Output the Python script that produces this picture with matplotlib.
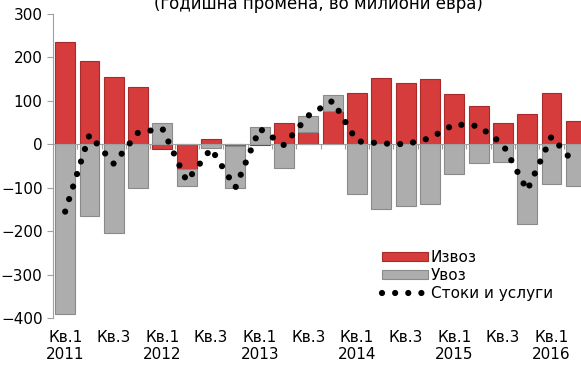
import matplotlib.pyplot as plt
from matplotlib.patches import Patch
from matplotlib.lines import Line2D
import numpy as np

# Quarterly annual change, million EUR (2011 Q1 - 2016 Q2)
quarters = ['Q1-11', 'Q2-11', 'Q3-11', 'Q4-11',
            'Q1-12', 'Q2-12', 'Q3-12', 'Q4-12',
            'Q1-13', 'Q2-13', 'Q3-13', 'Q4-13',
            'Q1-14', 'Q2-14', 'Q3-14', 'Q4-14',
            'Q1-15', 'Q2-15', 'Q3-15', 'Q4-15',
            'Q1-16', 'Q2-16']
exports = [236, 192, 155, 132, -10, -57, 12, -5, -2, 49, 28, 76,
           117, 153, 142, 150, 116, 89, 48, 70, 118, 53]
imports = [-391, -166, -204, -101, 50, -38, -8, -96, 40, -54, 37, 37,
           -114, -150, -141, -137, -69, -43, -41, -183, -91, -96]
goods_services = [-155, 22, -45, 27, 36, -85, -10, -100, 36, -2, 66, 100,
                  7, 2, 0, 14, 46, 42, 0, -106, 18, -48]

tick_labels = ['Кв.1\n2011', 'Кв.3', 'Кв.1\n2012', 'Кв.3', 'Кв.1\n2013', 'Кв.3',
               'Кв.1\n2014', 'Кв.3', 'Кв.1\n2015', 'Кв.3', 'Кв.1\n2016']

RED = '#d63c3c'
RED_EDGE = '#a82a2a'
GREY = '#adadad'
GREY_EDGE = '#8a8a8a'
AXIS = '#a0a0a0'
DOTS = (0, (0.001, 2.1))

plt.rcParams['font.family'] = ['DejaVu Sans']

fig = plt.figure(figsize=(5.81, 3.65), dpi=100)
ax = fig.add_axes([53 / 581, 1 - 318 / 365, 535 / 581, 304 / 365])

x = np.arange(len(quarters))
exp = np.array(exports)
imp = np.array(imports)
# stacked like a spreadsheet: same-sign values pile on top of each other
imp_bottom = np.where(np.sign(imp) == np.sign(exp), exp, 0)

ax.bar(x, exp, width=0.82, color=RED, edgecolor=RED_EDGE, linewidth=0.8, zorder=2)
ax.bar(x, imp, width=0.82, bottom=imp_bottom, color=GREY, edgecolor=GREY_EDGE,
       linewidth=0.8, zorder=2)

ax.plot(x, goods_services, color='black', linewidth=4.5,
        linestyle=DOTS, dash_capstyle='round', zorder=3)

ax.set_xlim(-0.5, len(quarters) - 0.5)
ax.set_ylim(-400, 300)
ax.set_yticks(range(-400, 301, 100))
ax.tick_params(axis='y', labelsize=11, length=4.5, width=0.8, color=AXIS, pad=3)

for side in ('top', 'right'):
    ax.spines[side].set_visible(False)
ax.spines['left'].set_color(AXIS)
ax.spines['bottom'].set_color(AXIS)
ax.spines['bottom'].set_position(('data', 0))
ax.spines['bottom'].set_zorder(2.5)
ax.set_xticks(x[:-1] + 0.5)
ax.set_xticklabels([])
ax.tick_params(axis='x', length=3.5, width=0.8, color=AXIS)

for i, lab in enumerate(tick_labels):
    ax.text(2 * i, -0.04, lab, transform=ax.get_xaxis_transform(), ha='center',
            va='top', fontsize=11, linespacing=1.15)

fig.text(318 / 581, 1 - 9 / 365, '(годишна промена, во милиони евра)',
         ha='center', va='baseline', fontsize=12)

handles = [Patch(facecolor=RED, edgecolor=RED_EDGE, linewidth=0.8),
           Patch(facecolor=GREY, edgecolor=GREY_EDGE, linewidth=0.8),
           Line2D([0], [0], color='black', linewidth=4.5,
                  linestyle=DOTS, dash_capstyle='round')]
ax.legend(handles, ['Извоз', 'Увоз', 'Стоки и услуги'], loc='upper left',
          bbox_to_anchor=(376 / 581, 1 - 244 / 365), bbox_transform=fig.transFigure,
          frameon=False, fontsize=11, handlelength=3.0, handleheight=0.5,
          handletextpad=0.2, labelspacing=0.2, borderaxespad=0)

fig.savefig('out.png', dpi=100)
